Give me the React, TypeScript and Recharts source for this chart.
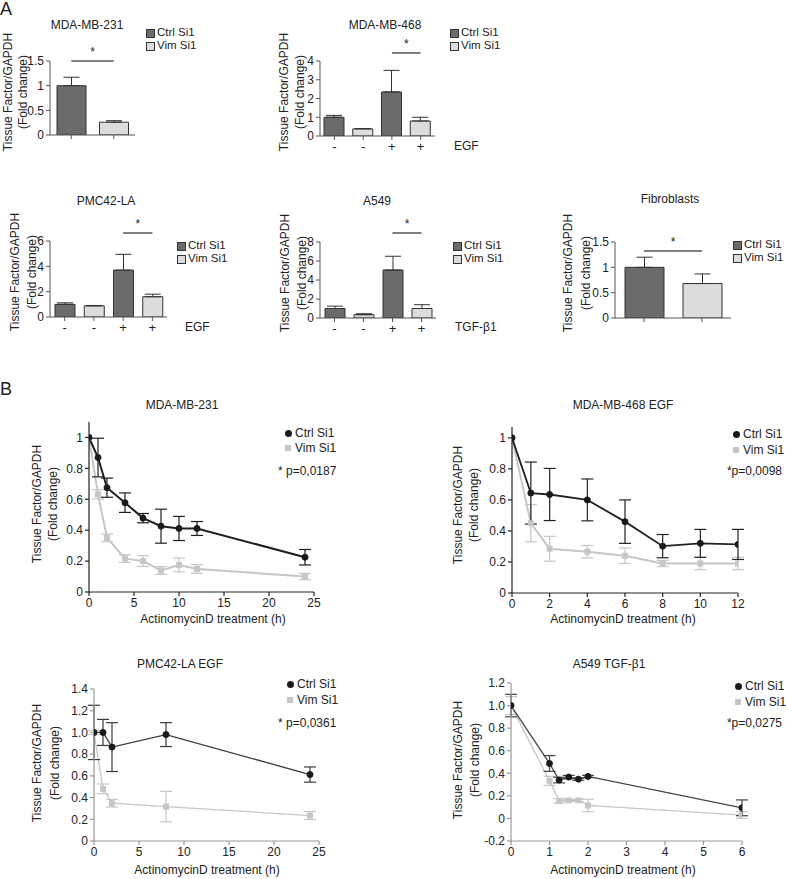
import {
  BarChart,
  Bar,
  Cell,
  LineChart,
  Line,
  XAxis,
  YAxis,
  ErrorBar,
  ReferenceLine,
} from 'recharts'

const FONT = '"Liberation Sans", Arial, Helvetica, sans-serif'
const CTRL_FILL = '#6b6b6b'
const VIM_FILL = '#dcdcdc'
const EDGE = '#333333'
const VIM_LINE = '#c6c6c6'
const TEXT = '#222222'

// ---------- A: bar panels ----------
const pairKeys = ['ctrl', 'vim']
const pairTicks = ['', '']
const quadKeys = ['ctrl-', 'vim-', 'ctrl+', 'vim+']
const treatTicks = ['-', '-', '+', '+']

const mb231Values = [1.0, 0.26]
const mb231Errors = [0.17, 0.03]

const mb468Values = [1.0, 0.38, 2.35, 0.8]
const mb468Errors = [0.1, 0.02, 1.15, 0.2]

const pmcValues = [1.0, 0.88, 3.7, 1.6]
const pmcErrors = [0.12, 0.03, 1.25, 0.2]

const a549Values = [1.0, 0.35, 5.05, 1.0]
const a549Errors = [0.25, 0.1, 1.45, 0.4]

const fibroValues = [1.0, 0.68]
const fibroErrors = [0.2, 0.19]

// ---------- B: decay curves ----------
const mb231Hours = [0, 1, 2, 4, 6, 8, 10, 12, 24]
const mb231Ctrl = [1.0, 0.87, 0.675, 0.578, 0.478, 0.426, 0.411, 0.411, 0.225]
const mb231CtrlErr = [0, 0.125, 0.062, 0.063, 0.03, 0.11, 0.078, 0.045, 0.05]
const mb231Vim = [1.0, 0.632, 0.35, 0.216, 0.2, 0.139, 0.175, 0.149, 0.1]
const mb231VimErr = [0, 0.03, 0.025, 0.025, 0.035, 0.025, 0.045, 0.028, 0.02]

const mb468Hours = [0, 1, 2, 4, 6, 8, 10, 12]
const mb468Ctrl = [1.0, 0.644, 0.635, 0.6, 0.46, 0.302, 0.32, 0.313]
const mb468CtrlErr = [0, 0.2, 0.168, 0.135, 0.14, 0.075, 0.09, 0.097]
const mb468Vim = [1.0, 0.45, 0.285, 0.266, 0.24, 0.19, 0.19, 0.19]
const mb468VimErr = [0, 0.12, 0.08, 0.04, 0.05, 0.02, 0.04, 0.04]

const pmcHours = [0, 1, 2, 8, 24]
const pmcCtrl = [1.0, 1.0, 0.865, 0.98, 0.612]
const pmcCtrlErr = [0.25, 0.12, 0.225, 0.11, 0.07]
const pmcVim = [1.0, 0.48, 0.348, 0.317, 0.234]
const pmcVimErr = [0.02, 0.045, 0.035, 0.14, 0.037]

const a549Hours = [0, 1, 1.25, 1.5, 1.75, 2, 6]
const a549Ctrl = [1.0, 0.487, 0.34, 0.366, 0.348, 0.372, 0.094]
const a549CtrlErr = [0.1, 0.07, 0.025, 0.015, 0.01, 0.01, 0.07]
const a549Vim = [1.0, 0.333, 0.156, 0.16, 0.16, 0.115, 0.03]
const a549VimErr = [0.08, 0.04, 0.02, 0.01, 0.01, 0.055, 0.03]

const PAD_L = 45
const PAD_T = 24
const PAD_R = 15
const PAD_B = 30

type Rect = { l: number; t: number; r: number; b: number }

const Txt = ({
  x,
  y,
  children,
  size = 12,
  align = 'middle',
  rotate = false,
}: {
  x: number
  y: number
  children: any
  size?: number
  align?: 'middle' | 'start' | 'end'
  rotate?: boolean
}) => {
  const tx = align === 'middle' ? '-50%' : align === 'end' ? '-100%' : '0'
  return (
    <div
      style={{
        position: 'absolute',
        left: x,
        top: y,
        transform: `translate(${tx}, -50%)${rotate ? ' rotate(-90deg)' : ''}`,
        whiteSpace: 'nowrap',
        fontSize: size,
        fontFamily: FONT,
        color: TEXT,
        lineHeight: 1,
      }}
    >
      {children}
    </div>
  )
}

const YLabel = ({ x1, x2, y, size = 12 }: { x1: number; x2: number; y: number; size?: number }) => (
  <>
    <Txt x={x1} y={y} size={size} rotate>
      Tissue Factor/GAPDH
    </Txt>
    <Txt x={x2} y={y} size={size} rotate>
      (Fold change)
    </Txt>
  </>
)

const Box = ({ x, y, fill }: { x: number; y: number; fill: string }) => (
  <div
    style={{
      position: 'absolute',
      left: x,
      top: y - 4,
      width: 7,
      height: 7,
      background: fill,
      border: `1px solid ${EDGE}`,
    }}
  />
)

const BarLegend = ({ x, y1, y2 }: { x: number; y1: number; y2: number }) => (
  <>
    <Box x={x} y={y1} fill={CTRL_FILL} />
    <Txt x={x + 11} y={y1} size={11.5} align="start">
      Ctrl Si1
    </Txt>
    <Box x={x} y={y2} fill={VIM_FILL} />
    <Txt x={x + 11} y={y2} size={11.5} align="start">
      Vim Si1
    </Txt>
  </>
)

const LineLegend = ({ x, y1, y2, size = 12 }: { x: number; y1: number; y2: number; size?: number }) => (
  <>
    <div
      style={{
        position: 'absolute',
        left: x - 3.5,
        top: y1 - 3.5,
        width: 7,
        height: 7,
        borderRadius: '50%',
        background: '#1a1a1a',
      }}
    />
    <Txt x={x + 7} y={y1} size={size} align="start">
      Ctrl Si1
    </Txt>
    <div
      style={{
        position: 'absolute',
        left: x - 3,
        top: y2 - 3,
        width: 6,
        height: 6,
        background: VIM_LINE,
      }}
    />
    <Txt x={x + 7} y={y2} size={size} align="start">
      Vim Si1
    </Txt>
  </>
)

type BarProps = {
  rect: Rect
  keys: string[]
  ticks: string[]
  values: number[]
  errors: number[]
  yMax: number
  yTicks: number[]
  barSize: number
  sig: [number, number, number]
}

const BarPanel = ({ rect, keys, ticks, values, errors, yMax, yTicks, barSize, sig }: BarProps) => {
  const data = keys.map((k, i) => ({ key: k, value: values[i], err: [0, errors[i]] }))
  const w = rect.r - rect.l + PAD_L + PAD_R
  const h = rect.b - rect.t + PAD_T + PAD_B
  const axis = { stroke: '#555', strokeWidth: 1 }
  return (
    <div style={{ position: 'absolute', left: rect.l - PAD_L, top: rect.t - PAD_T }}>
      <BarChart
        width={w}
        height={h}
        data={data}
        margin={{ top: PAD_T, right: PAD_R, bottom: 0, left: 0 }}
      >
        <XAxis
          dataKey="key"
          height={PAD_B}
          tickFormatter={(_: any, i: number) => ticks[i]}
          axisLine={axis}
          tickLine={axis}
          tickSize={4}
          tick={{ fontSize: 13, fill: TEXT, fontFamily: FONT }}
          interval={0}
        />
        <YAxis
          width={PAD_L}
          type="number"
          domain={[0, yMax]}
          ticks={yTicks}
          allowDataOverflow
          interval={0}
          axisLine={axis}
          tickLine={axis}
          tickSize={4}
          tick={{ fontSize: 12, fill: TEXT, fontFamily: FONT }}
        />
        <Bar dataKey="value" barSize={barSize} stroke={EDGE} strokeWidth={1} isAnimationActive={false}>
          {data.map((d) => (
            <Cell key={d.key} fill={d.key.startsWith('ctrl') ? CTRL_FILL : VIM_FILL} />
          ))}
          <ErrorBar dataKey="err" direction="y" width={8} stroke={EDGE} strokeWidth={1} isAnimationActive={false} />
        </Bar>
        <ReferenceLine
          segment={[
            { x: keys[sig[0]], y: sig[2] },
            { x: keys[sig[1]], y: sig[2] },
          ]}
          stroke="#555"
          strokeWidth={1.5}
          ifOverflow="visible"
          label={{ value: '*', position: 'top', fill: TEXT, fontSize: 12, fontFamily: FONT }}
        />
      </BarChart>
    </div>
  )
}

type LineProps = {
  rect: Rect
  hours: number[]
  ctrl: number[]
  ctrlErr: number[]
  vim: number[]
  vimErr: number[]
  xMax: number
  xTicks: number[]
  yDomain: [number, number]
  yTicks: number[]
  yFmt?: (v: number) => string
  axisColor: string
  ctrlColor: string
  ctrlWidth: number
  vimWidth: number
  tickFont: number
}

const LinePanel = (p: LineProps) => {
  const data = p.hours.map((t, i) => ({
    t,
    ctrl: p.ctrl[i],
    ctrlErr: p.ctrlErr[i],
    vim: p.vim[i],
    vimErr: p.vimErr[i],
  }))
  const w = p.rect.r - p.rect.l + PAD_L + PAD_R
  const h = p.rect.b - p.rect.t + PAD_T + PAD_B
  const axis = { stroke: p.axisColor, strokeWidth: 1.2 }
  const tick = { fontSize: p.tickFont, fill: TEXT, fontFamily: FONT }
  const squareDot = (d: any) => (
    <rect key={`sq-${d.index}`} x={d.cx - 3} y={d.cy - 3} width={6} height={6} fill={VIM_LINE} />
  )
  return (
    <div style={{ position: 'absolute', left: p.rect.l - PAD_L, top: p.rect.t - PAD_T }}>
      <LineChart
        width={w}
        height={h}
        data={data}
        margin={{ top: PAD_T, right: PAD_R, bottom: 0, left: 0 }}
      >
        <XAxis
          dataKey="t"
          type="number"
          domain={[0, p.xMax]}
          ticks={p.xTicks}
          height={PAD_B}
          axisLine={axis}
          tickLine={axis}
          tickSize={4}
          tick={tick}
          interval={0}
          allowDataOverflow
        />
        <YAxis
          width={PAD_L}
          type="number"
          domain={p.yDomain}
          ticks={p.yTicks}
          tickFormatter={p.yFmt}
          allowDataOverflow
          interval={0}
          axisLine={axis}
          tickLine={axis}
          tickSize={4}
          tick={tick}
        />
        <Line
          dataKey="vim"
          stroke={VIM_LINE}
          strokeWidth={p.vimWidth}
          dot={squareDot}
          activeDot={false}
          isAnimationActive={false}
        >
          <ErrorBar dataKey="vimErr" direction="y" width={6} stroke={VIM_LINE} strokeWidth={1.2} isAnimationActive={false} />
        </Line>
        <Line
          dataKey="ctrl"
          stroke={p.ctrlColor}
          strokeWidth={p.ctrlWidth}
          dot={{ r: 3, fill: '#1a1a1a', stroke: '#1a1a1a', strokeWidth: 1 }}
          activeDot={false}
          isAnimationActive={false}
        >
          <ErrorBar dataKey="ctrlErr" direction="y" width={6} stroke={p.ctrlColor} strokeWidth={1.2} isAnimationActive={false} />
        </Line>
      </LineChart>
    </div>
  )
}

const oneDecimal = (v: number) => (v === 0 ? '0' : v.toFixed(1))

export default function App() {
  return (
    <div
      style={{
        position: 'absolute',
        left: 0,
        top: 0,
        width: 786,
        height: 879,
        background: '#fff',
        fontFamily: FONT,
      }}
    >
      <Txt x={0} y={9} size={18} align="start">
        A
      </Txt>
      <Txt x={0} y={389} size={18} align="start">
        B
      </Txt>

      {/* A: MDA-MB-231 */}
      <Txt x={87} y={25}>MDA-MB-231</Txt>
      <YLabel x1={8} x2={23} y={92} />
      <BarLegend x={146} y1={33} y2={46} />
      <BarPanel
        rect={{ l: 50, t: 61, r: 135, b: 135 }}
        keys={pairKeys}
        ticks={pairTicks}
        values={mb231Values}
        errors={mb231Errors}
        yMax={1.5}
        yTicks={[0, 0.5, 1, 1.5]}
        barSize={29}
        sig={[0, 1, 1.5]}
      />

      {/* A: MDA-MB-468 */}
      <Txt x={385} y={25}>MDA-MB-468</Txt>
      <YLabel x1={284} x2={300} y={92} />
      <BarLegend x={450} y1={33} y2={46} />
      <BarPanel
        rect={{ l: 320, t: 61, r: 435, b: 136 }}
        keys={quadKeys}
        ticks={treatTicks}
        values={mb468Values}
        errors={mb468Errors}
        yMax={4}
        yTicks={[0, 1, 2, 3, 4]}
        barSize={20}
        sig={[2, 3, 4.43]}
      />
      <Txt x={454} y={146} align="start">
        EGF
      </Txt>

      {/* A: PMC42-LA */}
      <Txt x={106} y={201}>PMC42-LA</Txt>
      <YLabel x1={15} x2={32} y={272} />
      <BarLegend x={177} y1={246} y2={259} />
      <BarPanel
        rect={{ l: 50, t: 241, r: 167, b: 317 }}
        keys={quadKeys}
        ticks={treatTicks}
        values={pmcValues}
        errors={pmcErrors}
        yMax={6}
        yTicks={[0, 2, 4, 6]}
        barSize={20}
        sig={[2, 3, 6.63]}
      />
      <Txt x={185} y={327} align="start">
        EGF
      </Txt>

      {/* A: A549 */}
      <Txt x={377} y={201}>A549</Txt>
      <YLabel x1={285} x2={302} y={273} />
      <BarLegend x={453} y1={246} y2={259} />
      <BarPanel
        rect={{ l: 320, t: 242, r: 436, b: 318 }}
        keys={quadKeys}
        ticks={treatTicks}
        values={a549Values}
        errors={a549Errors}
        yMax={8}
        yTicks={[0, 2, 4, 6, 8]}
        barSize={20}
        sig={[2, 3, 8.95]}
      />
      <Txt x={455} y={327} align="start">
        TGF-β1
      </Txt>

      {/* A: Fibroblasts */}
      <Txt x={670} y={199}>Fibroblasts</Txt>
      <YLabel x1={568} x2={586} y={273} />
      <BarLegend x={733} y1={245} y2={258} />
      <BarPanel
        rect={{ l: 615, t: 242, r: 731, b: 318 }}
        keys={pairKeys}
        ticks={pairTicks}
        values={fibroValues}
        errors={fibroErrors}
        yMax={1.5}
        yTicks={[0, 0.5, 1, 1.5]}
        barSize={39}
        sig={[0, 1, 1.32]}
      />

      {/* B: MDA-MB-231 */}
      <Txt x={182} y={405}>MDA-MB-231</Txt>
      <YLabel x1={37} x2={53} y={504} />
      <LineLegend x={288} y1={433} y2={448} />
      <Txt x={278} y={471} align="start">
        * p=0,0187
      </Txt>
      <Txt x={213} y={619}>ActinomycinD treatment (h)</Txt>
      <LinePanel
        rect={{ l: 89, t: 422, r: 314, b: 592 }}
        hours={mb231Hours}
        ctrl={mb231Ctrl}
        ctrlErr={mb231CtrlErr}
        vim={mb231Vim}
        vimErr={mb231VimErr}
        xMax={25}
        xTicks={[0, 5, 10, 15, 20, 25]}
        yDomain={[0, 1.1]}
        yTicks={[0, 0.2, 0.4, 0.6, 0.8, 1]}
        axisColor="#222"
        ctrlColor="#1e1e1e"
        ctrlWidth={2}
        vimWidth={2}
        tickFont={12}
      />

      {/* B: MDA-MB-468 EGF */}
      <Txt x={623} y={405}>MDA-MB-468 EGF</Txt>
      <YLabel x1={458} x2={474} y={505} />
      <LineLegend x={736} y1={434} y2={450} />
      <Txt x={782} y={471} align="end">
        *p=0,0098
      </Txt>
      <Txt x={623} y={619}>ActinomycinD treatment (h)</Txt>
      <LinePanel
        rect={{ l: 512, t: 427, r: 738, b: 593 }}
        hours={mb468Hours}
        ctrl={mb468Ctrl}
        ctrlErr={mb468CtrlErr}
        vim={mb468Vim}
        vimErr={mb468VimErr}
        xMax={12}
        xTicks={[0, 2, 4, 6, 8, 10, 12]}
        yDomain={[0, 1.07]}
        yTicks={[0, 0.2, 0.4, 0.6, 0.8, 1]}
        axisColor="#222"
        ctrlColor="#222"
        ctrlWidth={1.8}
        vimWidth={2}
        tickFont={12}
      />

      {/* B: PMC42-LA EGF */}
      <Txt x={180} y={664}>PMC42-LA EGF</Txt>
      <YLabel x1={37} x2={55} y={763} />
      <LineLegend x={290} y1={684} y2={700} />
      <Txt x={278} y={723} align="start">
        * p=0,0361
      </Txt>
      <Txt x={207} y={870}>ActinomycinD treatment (h)</Txt>
      <LinePanel
        rect={{ l: 94, t: 689, r: 319, b: 841 }}
        hours={pmcHours}
        ctrl={pmcCtrl}
        ctrlErr={pmcCtrlErr}
        vim={pmcVim}
        vimErr={pmcVimErr}
        xMax={25}
        xTicks={[0, 5, 10, 15, 20, 25]}
        yDomain={[0, 1.4]}
        yTicks={[0, 0.2, 0.4, 0.6, 0.8, 1, 1.2, 1.4]}
        yFmt={oneDecimal}
        axisColor="#999"
        ctrlColor="#3a3a3a"
        ctrlWidth={1.3}
        vimWidth={1.3}
        tickFont={12}
      />

      {/* B: A549 TGF-b1 */}
      <Txt x={609} y={664}>A549 TGF-β1</Txt>
      <YLabel x1={458} x2={475} y={760} />
      <LineLegend x={738} y1={686} y2={702} />
      <Txt x={782} y={723} align="end">
        *p=0,0275
      </Txt>
      <Txt x={623} y={870}>ActinomycinD treatment (h)</Txt>
      <LinePanel
        rect={{ l: 511, t: 683, r: 742, b: 841 }}
        hours={a549Hours}
        ctrl={a549Ctrl}
        ctrlErr={a549CtrlErr}
        vim={a549Vim}
        vimErr={a549VimErr}
        xMax={6}
        xTicks={[0, 1, 2, 3, 4, 5, 6]}
        yDomain={[-0.2, 1.2]}
        yTicks={[-0.2, 0, 0.2, 0.4, 0.6, 0.8, 1, 1.2]}
        yFmt={oneDecimal}
        axisColor="#999"
        ctrlColor="#444"
        ctrlWidth={1.3}
        vimWidth={1.3}
        tickFont={12}
      />
    </div>
  )
}
